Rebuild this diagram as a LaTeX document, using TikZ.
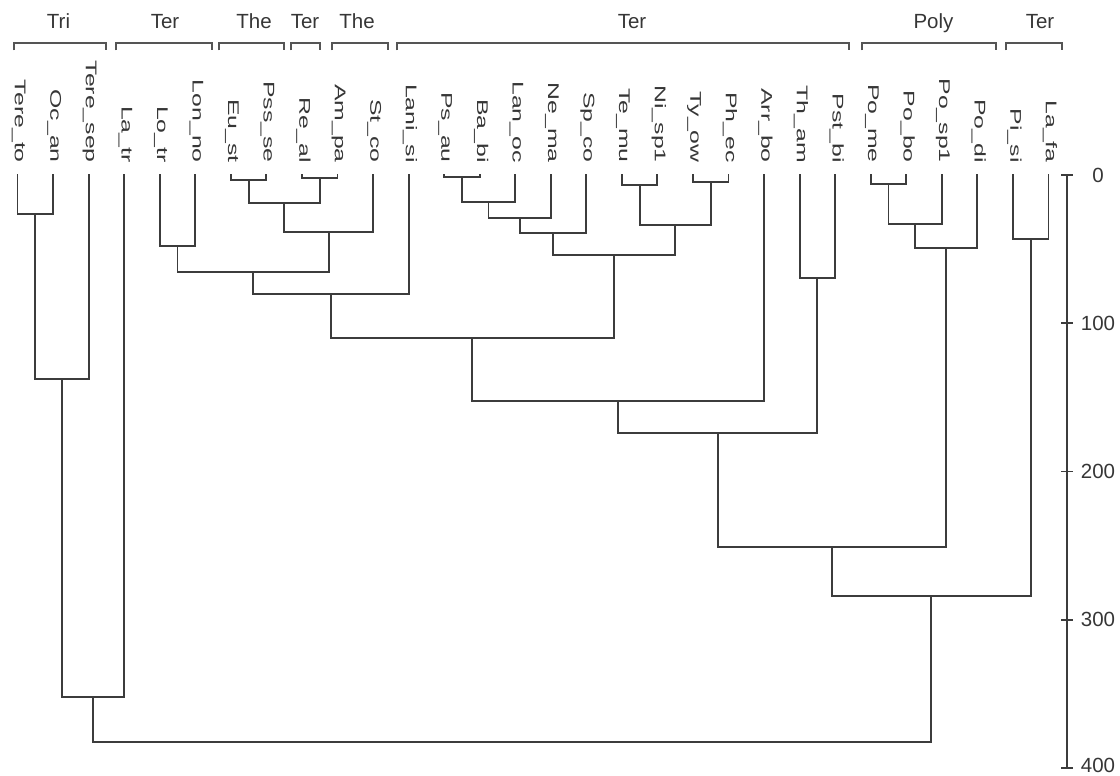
\documentclass[tikz,border=0pt]{standalone}
\usepackage{fontspec}
\setmainfont{Liberation Sans}
\definecolor{linec}{HTML}{3C3C3C}
\definecolor{brackc}{HTML}{555555}
\definecolor{textc}{HTML}{363636}
\begin{document}
\begin{tikzpicture}[x=1pt,y=-1pt,
  link/.style={draw=linec, line width=1.9pt},
  bracket/.style={draw=brackc, line width=1.9pt},
  leaf/.style={text=textc, font=\fontsize{15.5}{16}\selectfont, rotate=-90, xscale=1.6, anchor=mid east, inner sep=0pt},
  grp/.style={text=textc, font=\fontsize{20.5}{22}\selectfont, anchor=base, inner sep=0pt},
  axlab/.style={text=textc, font=\fontsize{20.5}{22}\selectfont, anchor=center, inner sep=0pt}]
\useasboundingbox (0,0) rectangle (1120,776);

% leaves: label node and top of leaf line
\foreach \i/\t in {1/Tere\_to,2/Oc\_an,3/Tere\_sep,4/La\_tr,5/Lo\_tr,6/Lon\_no,
  7/Eu\_st,8/Pss\_se,9/Re\_al,10/Am\_pa,11/St\_co,12/Lani\_si,13/Ps\_au,14/Ba\_bi,
  15/Lan\_oc,16/Ne\_ma,17/Sp\_co,18/Te\_mu,19/Ni\_sp1,20/Ty\_ow,21/Ph\_ec,22/Arr\_bo,
  23/Th\_am,24/Pst\_bi,25/Po\_me,26/Po\_bo,27/Po\_sp1,28/Po\_di,29/Pi\_si,30/La\_fa}{
  \node[leaf] (n\i) at ({17.5+35.55*(\i-1)},163) {\t};
  \coordinate (a\i) at ({17.5+35.55*(\i-1)},174);
}

% merge points
\coordinate (c1) at (35.28,214);
\coordinate (c2) at (61.94,379);
\coordinate (c3) at (93.04,697);
\coordinate (e1) at (248.58,180);
\coordinate (e2) at (319.68,178);
\coordinate (e3) at (284.13,203);
\coordinate (e4) at (328.56,232);
\coordinate (l1) at (177.48,246);
\coordinate (l2) at (253.02,272);
\coordinate (l3) at (330.78,294);
\coordinate (p1) at (461.88,177);
\coordinate (p2) at (488.54,202);
\coordinate (p3) at (519.64,218);
\coordinate (p4) at (552.97,233);
\coordinate (t1) at (639.63,185);
\coordinate (t2) at (710.73,182);
\coordinate (t3) at (675.18,225);
\coordinate (p5) at (614.07,255);
\coordinate (m1) at (472.43,338);
\coordinate (m2) at (618.24,401);
\coordinate (h1) at (817.38,278);
\coordinate (m3) at (717.81,433);
\coordinate (o1) at (888.48,184);
\coordinate (o2) at (915.14,224);
\coordinate (o3) at (946.24,248);
\coordinate (m4) at (832.03,547);
\coordinate (s1) at (1030.68,239);
\coordinate (m5) at (931.35,596);
\coordinate (root) at (512.2,742);

% dendrogram links
\draw[link] (a1) |- (c1) -| (a2);
\draw[link] (c1) |- (c2) -| (a3);
\draw[link] (c2) |- (c3) -| (a4);
\draw[link] (a7) |- (e1) -| (a8);
\draw[link] (a9) |- (e2) -| (a10);
\draw[link] (e1) |- (e3) -| (e2);
\draw[link] (e3) |- (e4) -| (a11);
\draw[link] (a5) |- (l1) -| (a6);
\draw[link] (l1) |- (l2) -| (e4);
\draw[link] (l2) |- (l3) -| (a12);
\draw[link] (a13) |- (p1) -| (a14);
\draw[link] (p1) |- (p2) -| (a15);
\draw[link] (p2) |- (p3) -| (a16);
\draw[link] (p3) |- (p4) -| (a17);
\draw[link] (a18) |- (t1) -| (a19);
\draw[link] (a20) |- (t2) -| (a21);
\draw[link] (t1) |- (t3) -| (t2);
\draw[link] (p4) |- (p5) -| (t3);
\draw[link] (l3) |- (m1) -| (p5);
\draw[link] (m1) |- (m2) -| (a22);
\draw[link] (a23) |- (h1) -| (a24);
\draw[link] (m2) |- (m3) -| (h1);
\draw[link] (a25) |- (o1) -| (a26);
\draw[link] (o1) |- (o2) -| (a27);
\draw[link] (o2) |- (o3) -| (a28);
\draw[link] (m3) |- (m4) -| (o3);
\draw[link] (a29) |- (s1) -| (a30);
\draw[link] (m4) |- (m5) -| (s1);
\draw[link] (c3) |- (root) -| (m5);

% group brackets and labels
\foreach \l/\r/\tx/\t [count=\k] in {14/106/58.5/Tri,116/212/165/Ter,219/284/254/The,
  291/320/305/Ter,332/388/357/The,397/849/632/Ter,862/996/933.5/Poly,1006/1062/1040/Ter}{
  \draw[bracket] (\l,50.5) -- (\l,43) -- (\r,43) -- (\r,50.5);
  \node[grp] (g\k) at (\tx,28.5) {\t};
}

% scale axis
\coordinate (ax0) at (1067,175);
\coordinate (ax4) at (1067,768);
\draw[link] (ax0) -- (ax4);
\foreach \v/\ly [count=\k] in {0/175,100/323.3,200/471.6,300/619.8,400/765}{
  \coordinate (tk\k) at (1067,{175+1.4825*\v});
  \draw[link] ([xshift=-6pt]tk\k) -- ([xshift=6pt]tk\k);
  \node[axlab] (al\k) at (1098,\ly) {\v};
}
\end{tikzpicture}
\end{document}
